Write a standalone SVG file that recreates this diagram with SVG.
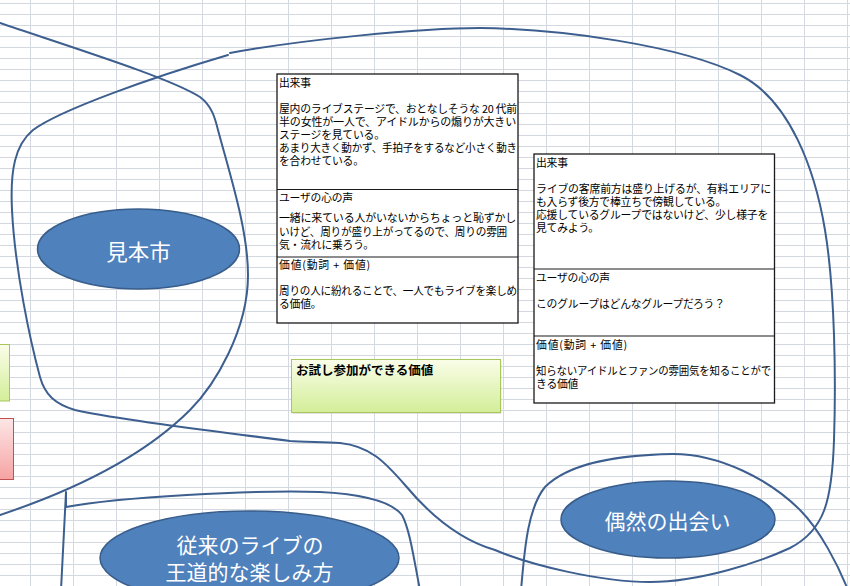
<svg xmlns="http://www.w3.org/2000/svg" width="850" height="586" viewBox="0 0 850 586">
<defs>
<linearGradient id="gGreen" x1="0" y1="0" x2="0" y2="1"><stop offset="0" stop-color="#fafde9"/><stop offset="1" stop-color="#d3ee98"/></linearGradient>
<linearGradient id="gRed" x1="0" y1="0" x2="0" y2="1"><stop offset="0" stop-color="#fde6e6"/><stop offset="1" stop-color="#f6a3a3"/></linearGradient>
</defs>
<style>
.grid{stroke:#d4d8e0;stroke-width:1;fill:none}
.curve{fill:none;stroke:#3d5f8f;stroke-width:2;stroke-linejoin:round;stroke-linecap:round}
.ell{fill:#4f81bd;stroke:#385d8a;stroke-width:1.5}
.etxt{font-family:"Noto Sans CJK JP","Noto Sans",sans-serif;font-size:21px;fill:#fff;text-anchor:middle}
.box{fill:#fff;stroke:#1a1a1a;stroke-width:1.3}
.div{stroke:#1a1a1a;stroke-width:1}
.t{font-family:"Noto Sans CJK JP","Noto Sans",sans-serif;font-size:10.8px;fill:#000;letter-spacing:-0.2px}
.gt{font-family:"Noto Sans CJK JP","Noto Sans",sans-serif;font-size:12.5px;font-weight:bold;fill:#000}
</style>
<rect width="850" height="586" fill="#fff"/>
<path class="grid" d="M30.5 0V586M73.5 0V586M116.5 0V586M159.5 0V586M202.5 0V586M245.5 0V586M288.5 0V586M331.5 0V586M374.5 0V586M417.5 0V586M460.5 0V586M503.5 0V586M546.5 0V586M589.5 0V586M632.5 0V586M675.5 0V586M718.5 0V586M761.5 0V586M804.5 0V586M847.5 0V586
M0 3.5H850M0 14.5H850M0 25.5H850M0 36.5H850M0 47.5H850M0 58.5H850M0 69.5H850M0 80.5H850M0 91.5H850M0 102.5H850M0 113.5H850M0 124.5H850M0 135.5H850M0 146.5H850M0 157.5H850M0 168.5H850M0 179.5H850M0 190.5H850M0 201.5H850M0 212.5H850M0 223.5H850M0 234.5H850M0 245.5H850M0 256.5H850M0 267.5H850M0 278.5H850M0 289.5H850M0 300.5H850M0 311.5H850M0 322.5H850M0 333.5H850M0 344.5H850M0 355.5H850M0 366.5H850M0 377.5H850M0 388.5H850M0 399.5H850M0 410.5H850M0 421.5H850M0 432.5H850M0 443.5H850M0 454.5H850M0 465.5H850M0 476.5H850M0 487.5H850M0 498.5H850M0 509.5H850M0 520.5H850M0 531.5H850M0 542.5H850M0 553.5H850M0 564.5H850M0 575.5H850"/>

<g id="connectors">
<path class="curve" d="M0 23C80 50 170 78 200 97C212 106 215 118 218 130C230 175 248 230 248 275C248 330 215 385 190 410C150 450 90 485 0 515"/>
<path class="curve" d="M230 53C300 40 420 28 480 28C560 29 680 45 740 75C790 100 815 170 825 230C835 290 836 380 834 440C832 500 825 530 790 548C760 562 700 582 650 582C600 582 530 565 495 550C460 540 430 515 405 485C385 462 370 446 340 443C320 442 300 442 290 441C230 433 130 422 75 410C55 404 45 395 40 377C30 340 15 270 12 210C10 170 15 145 33 130C60 110 150 78 228 55"/>
<path class="curve" d="M521 590C524 560 526 510 545 487C570 462 620 455 673 454C720 454 770 480 800 510C820 530 838 565 848 590"/>
<path class="curve" d="M61 590L66 492L66 507C120 497 250 490 320 492C360 494 390 500 402 515C410 530 414 560 420 590"/>
</g>

<g id="left-green"><rect x="-5" y="344.5" width="14.5" height="56.5" fill="url(#gGreen)" stroke="#a7c75c" stroke-width="1"/></g>
<g id="left-red"><rect x="-5" y="418.5" width="18.5" height="61" fill="url(#gRed)" stroke="#c0504d" stroke-width="1"/></g>

<g id="node-mihonichi">
<ellipse class="ell" cx="138.5" cy="249" rx="101" ry="40"/>
<text class="etxt" x="138.5" y="259.5" style="font-size:21.5px">見本市</text>
</g>
<g id="node-guuzen">
<ellipse class="ell" cx="668" cy="519.5" rx="107" ry="38.5"/>
<text class="etxt" x="667.5" y="528.5">偶然の出会い</text>
</g>
<g id="node-juurai">
<ellipse class="ell" cx="249.5" cy="558" rx="149.5" ry="47"/>
<text class="etxt" x="250" y="552.5">従来のライブの</text>
<text class="etxt" x="249.5" y="579.5">王道的な楽しみ方</text>
</g>

<g id="card-1">
<rect class="box" x="277" y="74" width="241" height="249"/>
<line class="div" x1="277" y1="189.5" x2="518" y2="189.5"/>
<line class="div" x1="277" y1="257" x2="518" y2="257"/>
<text class="t" x="279" y="87">出来事</text>
<text class="t" x="279" y="113" textLength="238" lengthAdjust="spacingAndGlyphs">屋内のライブステージで、おとなしそうな 20 代前</text>
<text class="t" x="279" y="126" textLength="237" lengthAdjust="spacingAndGlyphs">半の女性が一人で、アイドルからの煽りが大きい</text>
<text class="t" x="279" y="139">ステージを見ている。</text>
<text class="t" x="279" y="152" textLength="238" lengthAdjust="spacingAndGlyphs">あまり大きく動かず、手拍子をするなど小さく動き</text>
<text class="t" x="279" y="165">を合わせている。</text>
<text class="t" x="279" y="202">ユーザの心の声</text>
<text class="t" x="279" y="222" textLength="237" lengthAdjust="spacingAndGlyphs">一緒に来ている人がいないからちょっと恥ずかし</text>
<text class="t" x="279" y="236" textLength="228" lengthAdjust="spacingAndGlyphs">いけど、周りが盛り上がってるので、周りの雰囲</text>
<text class="t" x="279" y="249">気・流れに乗ろう。</text>
<text class="t" x="279" y="269" textLength="91" lengthAdjust="spacing">価値(動詞 + 価値)</text>
<text class="t" x="279" y="295" textLength="238" lengthAdjust="spacingAndGlyphs">周りの人に紛れることで、一人でもライブを楽しめ</text>
<text class="t" x="279" y="308">る価値。</text>
</g>

<g id="card-2">
<rect class="box" x="534" y="154" width="240.5" height="249"/>
<line class="div" x1="534" y1="269" x2="774.5" y2="269"/>
<line class="div" x1="534" y1="336" x2="774.5" y2="336"/>
<text class="t" x="536" y="167">出来事</text>
<text class="t" x="536" y="193" textLength="235" lengthAdjust="spacingAndGlyphs">ライブの客席前方は盛り上げるが、有料エリアに</text>
<text class="t" x="536" y="206">も入らず後方で棒立ちで傍観している。</text>
<text class="t" x="536" y="219" textLength="232" lengthAdjust="spacingAndGlyphs">応援しているグループではないけど、少し様子を</text>
<text class="t" x="536" y="232">見てみよう。</text>
<text class="t" x="536" y="282">ユーザの心の声</text>
<text class="t" x="536" y="308">このグループはどんなグループだろう？</text>
<text class="t" x="536" y="349" textLength="91" lengthAdjust="spacing">価値(動詞 + 価値)</text>
<text class="t" x="536" y="375" textLength="235" lengthAdjust="spacingAndGlyphs">知らないアイドルとファンの雰囲気を知ることがで</text>
<text class="t" x="536" y="388">きる価値</text>
</g>

<g id="value-note">
<rect x="292.5" y="361" width="209" height="53" fill="#c8c8c8" opacity="0.5"/>
<rect x="291.5" y="359.5" width="209" height="53" fill="url(#gGreen)" stroke="#a7c75c" stroke-width="1"/>
<text class="gt" x="296" y="375">お試し参加ができる価値</text>
</g>
</svg>
